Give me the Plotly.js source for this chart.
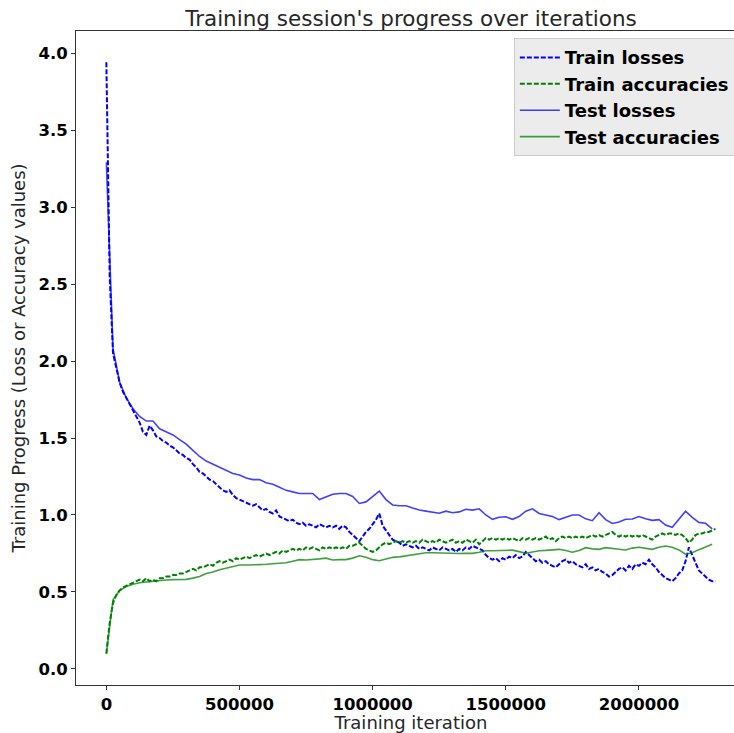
<!DOCTYPE html>
<html>
<head>
<meta charset="utf-8">
<script src="https://cdn.plot.ly/plotly-3.0.1.min.js"></script>
<style>
html, body { margin: 0; padding: 0; overflow: hidden; background: #fff; }
#chart { width: 760px; height: 733px; }
</style>
</head>
<body>
<div id="chart"></div>
<script>
// Training iterations: train metrics every 12500 its, test metrics every 25000 its
const trainStart = 0;
const trainStep = 12500;
const testStart = 0;
const testStep = 25000;

const trainLosses = [
  3.94, 2.55, 2.05, 1.95, 1.86, 1.80, 1.76, 1.71,
  1.67, 1.63, 1.60, 1.54, 1.52, 1.58, 1.55, 1.51,
  1.50, 1.48, 1.47, 1.45, 1.44, 1.42, 1.40, 1.39,
  1.37, 1.36, 1.33, 1.31, 1.28, 1.27, 1.25, 1.23,
  1.22, 1.20, 1.18, 1.16, 1.15, 1.16, 1.13, 1.11,
  1.10, 1.09, 1.08, 1.07, 1.06, 1.07, 1.05, 1.03,
  1.04, 1.02, 1.01, 1.03, 0.99, 0.98, 0.97, 0.96,
  0.97, 0.95, 0.94, 0.95, 0.93, 0.94, 0.93, 0.92,
  0.94, 0.93, 0.92, 0.93, 0.92, 0.93, 0.91, 0.93,
  0.92, 0.89, 0.87, 0.85, 0.83, 0.86, 0.89, 0.91,
  0.94, 0.97, 1.01, 0.93, 0.90, 0.87, 0.84, 0.83,
  0.82, 0.80, 0.81, 0.80, 0.79, 0.80, 0.78, 0.79,
  0.78, 0.77, 0.79, 0.78, 0.77, 0.79, 0.78, 0.77,
  0.78, 0.76, 0.78, 0.77, 0.79, 0.78, 0.80, 0.79,
  0.78, 0.77, 0.74, 0.72, 0.71, 0.72, 0.70, 0.72,
  0.71, 0.73, 0.72, 0.74, 0.72, 0.73, 0.76, 0.74,
  0.72, 0.70, 0.71, 0.69, 0.70, 0.68, 0.67, 0.66,
  0.68, 0.70, 0.71, 0.69, 0.70, 0.68, 0.67, 0.66,
  0.68, 0.65, 0.66, 0.64, 0.65, 0.63, 0.62, 0.60,
  0.61, 0.63, 0.65, 0.66, 0.64, 0.67, 0.65, 0.68,
  0.67, 0.69, 0.68, 0.71, 0.68, 0.66, 0.63, 0.61,
  0.59, 0.58, 0.57, 0.59, 0.62, 0.64, 0.70, 0.79,
  0.74, 0.68, 0.64, 0.62, 0.60, 0.58, 0.57, 0.57
];

const trainAccuracies = [
  0.10, 0.30, 0.43, 0.48, 0.51, 0.53, 0.54, 0.55,
  0.56, 0.57, 0.58, 0.57, 0.59, 0.57, 0.58, 0.57,
  0.59, 0.59, 0.60, 0.60, 0.61, 0.61, 0.62, 0.62,
  0.63, 0.64, 0.65, 0.64, 0.66, 0.66, 0.67, 0.68,
  0.67, 0.69, 0.70, 0.69, 0.70, 0.71, 0.70, 0.72,
  0.71, 0.72, 0.73, 0.72, 0.73, 0.74, 0.73, 0.74,
  0.75, 0.74, 0.75, 0.76, 0.75, 0.77, 0.76, 0.77,
  0.78, 0.77, 0.78, 0.77, 0.79, 0.78, 0.79, 0.78,
  0.77, 0.79, 0.78, 0.79, 0.78, 0.79, 0.78, 0.79,
  0.78, 0.80, 0.80, 0.81, 0.82, 0.80, 0.78, 0.77,
  0.76, 0.77, 0.79, 0.81, 0.82, 0.81, 0.82, 0.83,
  0.82, 0.83, 0.82, 0.83, 0.82, 0.83, 0.82, 0.84,
  0.83, 0.82, 0.83, 0.82, 0.84, 0.83, 0.82, 0.83,
  0.84, 0.82, 0.83, 0.82, 0.84, 0.83, 0.82, 0.84,
  0.81, 0.83, 0.85, 0.84, 0.85, 0.84, 0.85, 0.84,
  0.85, 0.84, 0.85, 0.84, 0.83, 0.85, 0.84, 0.85,
  0.84, 0.85, 0.84, 0.85, 0.86, 0.84, 0.85, 0.83,
  0.85, 0.86, 0.85, 0.86, 0.85, 0.86, 0.85, 0.86,
  0.85, 0.86, 0.87, 0.86, 0.87, 0.86, 0.87, 0.88,
  0.89, 0.87, 0.86, 0.87, 0.86, 0.87, 0.86, 0.87,
  0.86, 0.87, 0.86, 0.85, 0.84, 0.86, 0.87, 0.88,
  0.87, 0.88, 0.88, 0.87, 0.88, 0.87, 0.85, 0.82,
  0.84, 0.87, 0.88, 0.88, 0.89, 0.89, 0.90, 0.91
];

const testLosses = [
  3.29, 2.08, 1.86, 1.76,
  1.69, 1.64, 1.61, 1.61,
  1.56, 1.54, 1.52, 1.49,
  1.46, 1.42, 1.38, 1.35,
  1.33, 1.31, 1.29, 1.27,
  1.26, 1.24, 1.23, 1.23,
  1.21, 1.20, 1.18, 1.16,
  1.15, 1.14, 1.14, 1.14,
  1.10, 1.12, 1.135, 1.14,
  1.14, 1.12, 1.075, 1.085,
  1.12, 1.155, 1.10, 1.065,
  1.06, 1.06, 1.045, 1.032,
  1.025, 1.02, 1.011, 1.025,
  1.015, 1.02, 1.037, 1.032,
  1.04, 1.00, 0.972, 0.985,
  0.989, 0.972, 0.99, 1.025,
  1.04, 1.01, 0.998, 0.99,
  0.97, 0.985, 1.0, 1.0,
  0.975, 0.963, 1.015, 0.97,
  0.945, 0.955, 0.972, 0.974,
  0.99, 0.975, 0.965, 0.97,
  0.935, 0.92, 0.97, 1.025,
  0.985, 0.952, 0.946, 0.91
];

const testAccuracies = [
  0.10, 0.45, 0.51, 0.535,
  0.55, 0.56, 0.565, 0.57,
  0.575, 0.578, 0.58, 0.582,
  0.582, 0.59, 0.60, 0.62,
  0.63, 0.645, 0.655, 0.665,
  0.675, 0.675, 0.675, 0.678,
  0.68, 0.683, 0.686, 0.69,
  0.70, 0.71, 0.708, 0.71,
  0.715, 0.72, 0.708, 0.71,
  0.71, 0.72, 0.735, 0.725,
  0.71, 0.703, 0.715, 0.725,
  0.728, 0.735, 0.742, 0.75,
  0.755, 0.755, 0.753, 0.751,
  0.752, 0.75, 0.751, 0.751,
  0.758, 0.768, 0.768, 0.768,
  0.768, 0.772, 0.762, 0.751,
  0.76, 0.768, 0.77, 0.775,
  0.777, 0.77, 0.758, 0.77,
  0.788, 0.78, 0.777, 0.788,
  0.785, 0.778, 0.773, 0.785,
  0.79, 0.782, 0.777, 0.79,
  0.799, 0.79, 0.773, 0.745,
  0.755, 0.775, 0.79, 0.81
];

const seriesNames = ["Train losses", "Train accuracies", "Test losses", "Test accuracies"];
const xTickVals = [0, 500000, 1000000, 1500000, 2000000];
const xTickText = ["0", "500000", "1000000", "1500000", "2000000"];
const yTickVals = [0.0, 0.5, 1.0, 1.5, 2.0, 2.5, 3.0, 3.5, 4.0];
const yTickText = ["0.0", "0.5", "1.0", "1.5", "2.0", "2.5", "3.0", "3.5", "4.0"];

const traces = [
  { y: trainLosses, x0: trainStart, dx: trainStep, name: seriesNames[0], type: "scatter", mode: "lines",
    line: { color: "#0000ff", width: 2, dash: "5px,2px" } },
  { y: trainAccuracies, x0: trainStart, dx: trainStep, name: seriesNames[1], type: "scatter", mode: "lines",
    line: { color: "#008000", width: 2, dash: "5px,2px" } },
  { y: testLosses, x0: testStart, dx: testStep, name: seriesNames[2], type: "scatter", mode: "lines",
    line: { color: "rgba(0,0,255,0.75)", width: 1.6 } },
  { y: testAccuracies, x0: testStart, dx: testStep, name: seriesNames[3], type: "scatter", mode: "lines",
    line: { color: "rgba(0,128,0,0.75)", width: 1.6 } }
];

const tickFont = { family: "DejaVu Sans", size: 16.5, color: "#000", weight: "bold" };
const layout = {
  width: 760, height: 733,
  margin: { l: 76, r: 14, t: 31, b: 48, pad: 0 },
  paper_bgcolor: "#ffffff", plot_bgcolor: "#ffffff",
  font: { family: "DejaVu Sans", color: "#000" },
  title: { text: "Training session's progress over iterations",
    font: { family: "DejaVu Sans", size: 21.5, color: "#262626" },
    x: 0.5, xref: "paper", y: 1, yref: "paper", yanchor: "bottom", pad: { b: 5 } },
  xaxis: {
    range: [-114000, 2402000],
    tickvals: xTickVals, ticktext: xTickText,
    tickfont: tickFont, ticks: "outside", ticklen: 4, tickwidth: 1, tickcolor: "#333",
    showline: true, mirror: true, linecolor: "#333", linewidth: 1,
    showgrid: false, zeroline: false,
    title: { text: "Training iteration", font: { family: "DejaVu Sans", size: 18, color: "#262626" }, standoff: 4 }
  },
  yaxis: {
    range: [-0.104, 4.143],
    tickvals: yTickVals, ticktext: yTickText,
    tickfont: tickFont, ticks: "outside", ticklen: 4, tickwidth: 1, tickcolor: "#333",
    showline: true, mirror: true, linecolor: "#333", linewidth: 1,
    showgrid: false, zeroline: false,
    title: { text: "Training Progress (Loss or Accuracy values)", font: { family: "DejaVu Sans", size: 18, color: "#262626" }, standoff: 8 }
  },
  showlegend: true,
  legend: {
    x: 0.6535, xanchor: "left", y: 0.989, yanchor: "top",
    bgcolor: "#ececec", bordercolor: "#cccccc", borderwidth: 1,
    font: { family: "DejaVu Sans", size: 18, color: "#000", weight: "bold" },
    tracegroupgap: 0, itemwidth: 40
  }
};

Plotly.newPlot("chart", traces, layout, { displayModeBar: false, staticPlot: true });
</script>
</body>
</html>
